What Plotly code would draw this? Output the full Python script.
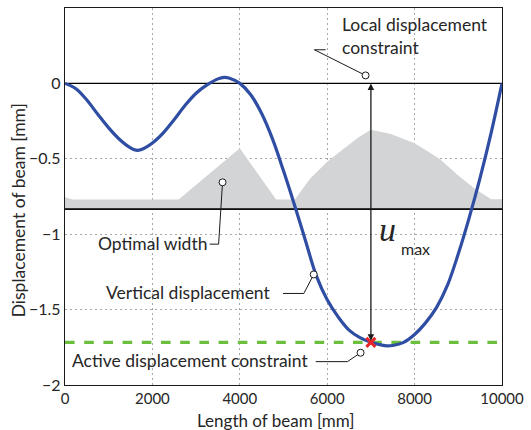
import plotly.graph_objects as go

# Beam displacement along its length [mm]
beam_x = [0, 250, 500, 750, 1000, 1250, 1500, 1620, 1750, 2000, 2250, 2500, 2750, 3000,
          3250, 3500, 3640, 3750, 4000, 4250, 4500, 4750, 5000, 5250, 5500, 5750, 6000,
          6250, 6500, 6750, 7000, 7250, 7370, 7500, 7750, 8000, 8250, 8500, 8750, 9000,
          9250, 9500, 9750, 10000]
disp = [0, -0.035, -0.11, -0.205, -0.295, -0.372, -0.428, -0.443, -0.438, -0.395, -0.328,
        -0.24, -0.145, -0.065, -0.01, 0.03, 0.04, 0.036, 0.0, -0.075, -0.2, -0.37, -0.58,
        -0.805, -1.04, -1.275, -1.435, -1.548, -1.636, -1.686, -1.717, -1.736, -1.741, -1.738,
        -1.717, -1.665, -1.588, -1.487, -1.34, -1.13, -0.89, -0.625, -0.33, 0]

# Optimal width profile (drawn above its reference level)
width_x = [0, 180, 2600, 4000, 4830, 5260, 5607, 6000, 6348, 6719, 7000,
           7459, 8000, 8570, 9000, 9385, 9755, 10000]
width_top = [-0.755, -0.77, -0.77, -0.43, -0.77, -0.77, -0.632, -0.52, -0.44, -0.357, -0.307,
             -0.335, -0.397, -0.5, -0.61, -0.70, -0.768, -0.768]
width_base = -0.834

u_limit = -1.717       # active displacement constraint
u_max_x = 7000         # location of the active constraint

x_ticks = [0, 2000, 4000, 6000, 8000, 10000]
y_ticks = [0.5, 0, -0.5, -1, -1.5, -2]
y_labels = ["0.5", "0", "\u22120.5", "\u22121", "\u22121.5", "\u22122"]

# Callout leaders: points along each leader, with a circle at the last point
leaders = {
    "local": ([5964, 5707, 6878], [0.223, 0.223, 0.053]),
    "width": ([3311, 3515, 3605], [-1.066, -1.066, -0.656]),
    "vert": ([4989, 5465, 5692], [-1.393, -1.393, -1.267]),
    "active": ([5737, 6463, 6764], [-1.845, -1.845, -1.786]),
}

TXT = "#262626"
FONT = "Lato"

fig = go.Figure()

fig.add_trace(go.Scatter(x=[0, 10000], y=[width_base, width_base], mode="lines",
                         line=dict(color="black", width=1.3), hoverinfo="skip"))
fig.add_trace(go.Scatter(x=width_x, y=width_top, mode="lines", fill="tonexty",
                         fillcolor="#d3d4d6", line=dict(color="#d3d4d6", width=0),
                         hoverinfo="skip"))
fig.add_trace(go.Scatter(x=[0, 10000], y=[width_base, width_base], mode="lines",
                         line=dict(color="black", width=1.3), hoverinfo="skip"))
fig.add_trace(go.Scatter(x=[0, 10000], y=[0, 0], mode="lines",
                         line=dict(color="black", width=1.3), hoverinfo="skip"))
fig.add_trace(go.Scatter(x=[0, 10000], y=[u_limit, u_limit], mode="lines",
                         line=dict(color="#6cbf3c", width=3.2, dash="dash"), hoverinfo="skip"))
fig.add_trace(go.Scatter(x=beam_x, y=disp, mode="lines", line_shape="spline",
                         line=dict(color="#2f4ea3", width=3.2, smoothing=1.0)))
fig.add_trace(go.Scatter(x=[u_max_x], y=[u_limit], mode="markers",
                         marker=dict(symbol="x-thin", size=9, line=dict(color="#e8262a", width=3))))

for key, (lx, ly) in leaders.items():
    fig.add_trace(go.Scatter(x=lx, y=ly, mode="lines",
                             line=dict(color="#1a1a1a", width=1), hoverinfo="skip"))
    fig.add_trace(go.Scatter(x=[lx[-1]], y=[ly[-1]], mode="markers",
                             marker=dict(symbol="circle", size=7, color="white",
                                         line=dict(color="#1a1a1a", width=1)),
                             hoverinfo="skip"))

# Double-headed arrow for u_max
fig.add_annotation(x=u_max_x, y=0, ax=u_max_x, ay=u_limit, xref="x", yref="y",
                   axref="x", ayref="y", showarrow=True, arrowhead=2, startarrowhead=2,
                   arrowside="end+start", arrowsize=1, arrowwidth=1.3, arrowcolor="#1a1a1a",
                   text="")

ann_font = dict(family=FONT, size=17.5, color=TXT)
fig.add_annotation(x=6304, y=0.315, xref="x", yref="y", showarrow=False, align="left",
                   xanchor="left", yanchor="middle",
                   text="Local displacement<br>constraint", font=ann_font)
fig.add_annotation(x=3288, y=-1.06, xref="x", yref="y", showarrow=False,
                   xanchor="right", yanchor="middle", text="Optimal width", font=ann_font)
fig.add_annotation(x=4762, y=-1.384, xref="x", yref="y", showarrow=False,
                   xanchor="right", yanchor="middle", text="Vertical displacement", font=ann_font)
fig.add_annotation(x=5601, y=-1.84, xref="x", yref="y", showarrow=False,
                   xanchor="right", yanchor="middle", text="Active displacement constraint",
                   font=ann_font)
fig.add_annotation(x=7370, y=-0.967, xref="x", yref="y", showarrow=False,
                   xanchor="center", yanchor="middle", text="<i>u</i>",
                   font=dict(family="Liberation Serif", size=34, color=TXT))
fig.add_annotation(x=8020, y=-1.093, xref="x", yref="y", showarrow=False,
                   xanchor="center", yanchor="middle", text="max",
                   font=dict(family=FONT, size=16, color=TXT))

# Axis titles
fig.add_annotation(x=4819, y=-0.06, xref="x", yref="paper", showarrow=False,
                   xanchor="center", yanchor="top", text="Length of beam [mm]",
                   font=dict(family=FONT, size=17, color=TXT))
fig.add_annotation(x=-0.107, y=-0.84, xref="paper", yref="y", showarrow=False,
                   xanchor="center", yanchor="middle", textangle=-90,
                   text="Displacement of beam [mm]",
                   font=dict(family=FONT, size=17.5, color=TXT))

fig.update_layout(
    width=531, height=430,
    margin=dict(l=65, r=25, t=7, b=45),
    paper_bgcolor="white", plot_bgcolor="white",
    showlegend=False,
    font=dict(family=FONT, size=16, color=TXT),
    xaxis=dict(range=[0, 10000], tickvals=x_ticks, ticktext=[str(v) for v in x_ticks],
               showgrid=True, gridcolor="#a8a8a8", griddash="2px,3px", gridwidth=1,
               zeroline=False, showline=True, linecolor="#1a1a1a", linewidth=1.3,
               mirror=True, ticks="", ticklen=0, tickfont=dict(size=15),
               ticklabelstandoff=0),
    yaxis=dict(range=[-2, 0.5], tickvals=y_ticks, ticktext=y_labels,
               showgrid=True, gridcolor="#a8a8a8", griddash="2px,3px", gridwidth=1,
               zeroline=False, showline=True, linecolor="#1a1a1a", linewidth=1.3,
               mirror=True, ticks="", ticklen=0, tickfont=dict(size=16)),
)

fig.write_html("out.html")
